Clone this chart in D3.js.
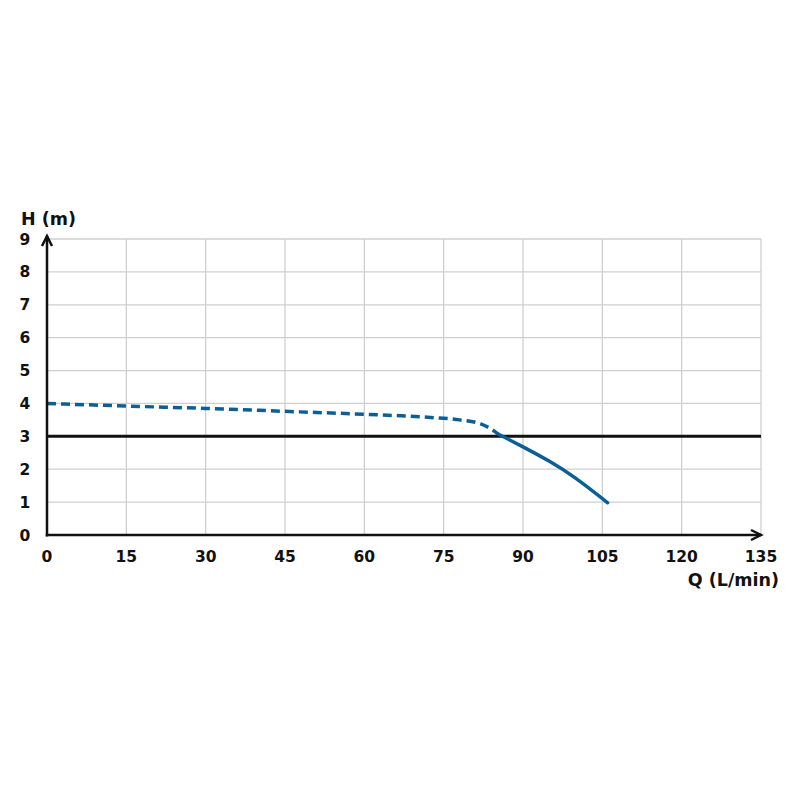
<!DOCTYPE html>
<html><head><meta charset="utf-8">
<script src="https://cdn.jsdelivr.net/npm/d3@7"></script>
<style>body{margin:0;background:#fff}svg{display:block}</style>
</head><body>
<script>
const xTicks = [0, 15, 30, 45, 60, 75, 90, 105, 120, 135];
const yTicks = [0, 1, 2, 3, 4, 5, 6, 7, 8, 9];
const dashedQ = [0, 15, 30, 45, 60, 72, 78, 82, 84, 85.3];
const dashedH = [4.0, 3.92, 3.85, 3.76, 3.67, 3.58, 3.5, 3.38, 3.22, 3.07];
const solidQ = [85.3, 90, 95, 100, 106];
const solidH = [3.07, 2.68, 2.24, 1.72, 0.98];
const refH = 3;

const W = 800, H = 800;
const svg = d3.select("body").append("svg").attr("width", W).attr("height", H);
const x = d3.scaleLinear().domain([0, 135]).range([47, 761]);
const y = d3.scaleLinear().domain([0, 9]).range([535, 239]);
const font = "'DejaVu Sans', sans-serif";

// grid
svg.append("g").selectAll("line").data(yTicks.filter(d => d > 0)).join("line")
  .attr("x1", x(0)).attr("x2", x(135)).attr("y1", d => y(d)).attr("y2", d => y(d))
  .attr("stroke", "#cfcfcf").attr("stroke-width", 1.3);
svg.append("g").selectAll("line").data(xTicks.filter(d => d > 0)).join("line")
  .attr("y1", y(0)).attr("y2", y(9)).attr("x1", d => x(d)).attr("x2", d => x(d))
  .attr("stroke", "#cfcfcf").attr("stroke-width", 1.3);

// tick labels
svg.append("g").selectAll("text").data(yTicks).join("text")
  .attr("x", 25).attr("y", d => y(d)).attr("dy", "0.36em").attr("text-anchor", "middle")
  .attr("font-family", font).attr("font-weight", "bold").attr("font-size", 15.5).attr("fill", "#111")
  .text(d => d);
svg.append("g").selectAll("text").data(xTicks).join("text")
  .attr("x", d => x(d)).attr("y", 562).attr("text-anchor", "middle")
  .attr("font-family", font).attr("font-weight", "bold").attr("font-size", 15.5).attr("fill", "#111")
  .text(d => d);

// reference line
svg.append("line").attr("x1", x(0)).attr("x2", x(135)).attr("y1", y(refH)).attr("y2", y(refH))
  .attr("stroke", "#111").attr("stroke-width", 3);

// curves
const lineD = d3.line().x(d => x(d[0])).y(d => y(d[1])).curve(d3.curveMonotoneX);
const lineS = d3.line().x(d => x(d[0])).y(d => y(d[1])).curve(d3.curveNatural);
svg.append("path").datum(dashedQ.map((q, i) => [q, dashedH[i]])).attr("d", lineD)
  .attr("fill", "none").attr("stroke", "#0a5f97").attr("stroke-width", 3.5)
  .attr("stroke-dasharray", "9,5");
svg.append("path").datum(solidQ.map((q, i) => [q, solidH[i]])).attr("d", lineS)
  .attr("fill", "none").attr("stroke", "#0a5f97").attr("stroke-width", 3.5)
  .attr("stroke-linecap", "round");

// axes with arrows
svg.append("line").attr("x1", x(0)).attr("x2", x(0)).attr("y1", y(0) + 1.5).attr("y2", 236)
  .attr("stroke", "#111").attr("stroke-width", 2.5);
svg.append("path").attr("d", `M${x(0) - 5},${246} L${x(0)},${236} L${x(0) + 5},${246}`)
  .attr("fill", "none").attr("stroke", "#111").attr("stroke-width", 2.5);
svg.append("line").attr("x1", x(0) - 1.25).attr("x2", 761).attr("y1", y(0)).attr("y2", y(0))
  .attr("stroke", "#111").attr("stroke-width", 2.5);
svg.append("path").attr("d", `M${751},${y(0) - 5} L${761},${y(0)} L${751},${y(0) + 5}`)
  .attr("fill", "none").attr("stroke", "#111").attr("stroke-width", 2.5);

// axis titles
svg.append("text").attr("x", 21).attr("y", 225).attr("font-family", font).attr("font-weight", "bold")
  .attr("font-size", 17.5).attr("fill", "#111").text("H (m)");
svg.append("text").attr("x", 779).attr("y", 586).attr("text-anchor", "end").attr("font-family", font)
  .attr("font-weight", "bold").attr("font-size", 17.5).attr("fill", "#111").text("Q (L/min)");
</script>
</body></html>
